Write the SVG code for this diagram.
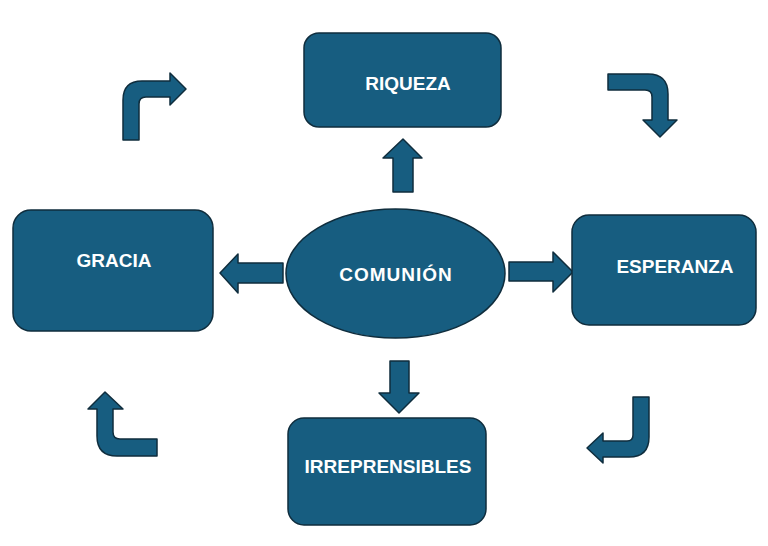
<svg xmlns="http://www.w3.org/2000/svg" width="768" height="546" viewBox="0 0 768 546">
<style>
.shape{fill:#175d80;stroke:#0f2d3d;stroke-width:1.5;stroke-linejoin:round}
.lbl{font-family:"Liberation Sans",Arial,sans-serif;font-weight:bold;font-size:19px;fill:#ffffff;text-anchor:middle}
</style>
<rect width="768" height="546" fill="#ffffff"/>
<g id="connectors">
<path class="shape" d="M393,192 L393,158 L383,158 L403,139 L422,158 L413,158 L413,192 Z"/>
<path class="shape" d="M283,263 L238,263 L238,254 L220,273 L238,293 L238,283 L283,283 Z"/>
<path class="shape" d="M509,262 L553,262 L553,252 L573,272 L553,292 L553,281 L509,281 Z"/>
<path class="shape" d="M390,361 L409,361 L409,393 L419,393 L399,413 L379,393 L390,393 Z"/>
<path class="shape" d="M123,140 L123,100 Q123,81 142,81 L170,81 L170,73 L186,89 L170,105 L170,97 L146,97 Q139,97 139,104 L139,140 Z"/>
<path class="shape" d="M608,74 L648,74 Q668,74 668,94 L668,120 L677,120 L660,137 L643,120 L652,120 L652,97 Q652,90 645,90 L608,90 Z"/>
<path class="shape" d="M633,397 L649,397 L649,437 Q649,457 629,457 L603,457 L603,463 L587,448 L603,433 L603,441 L627,441 Q633,441 633,435 Z"/>
<path class="shape" d="M157,439 L120,439 Q113,439 113,432 L113,409 L123,409 L105,392 L88,409 L97,409 L97,436 Q97,456 117,456 L157,456 Z"/>
</g>
<g id="riqueza">
<rect class="shape" x="304" y="33" width="197" height="94" rx="15"/>
<text class="lbl" x="408" y="90">RIQUEZA</text>
</g>
<g id="gracia">
<rect class="shape" x="13" y="210" width="200" height="121" rx="18"/>
<text class="lbl" x="114" y="267">GRACIA</text>
</g>
<g id="esperanza">
<rect class="shape" x="572" y="215" width="184" height="110" rx="17"/>
<text class="lbl" x="675" y="273">ESPERANZA</text>
</g>
<g id="irreprensibles">
<rect class="shape" x="288" y="418" width="198" height="107" rx="16"/>
<text class="lbl" x="388" y="473">IRREPRENSIBLES</text>
</g>
<g id="comunion">
<ellipse class="shape" cx="395.5" cy="273.5" rx="109.5" ry="64.5"/>
<text class="lbl" x="396" y="281" letter-spacing="1">COMUNIÓN</text>
</g>
</svg>
